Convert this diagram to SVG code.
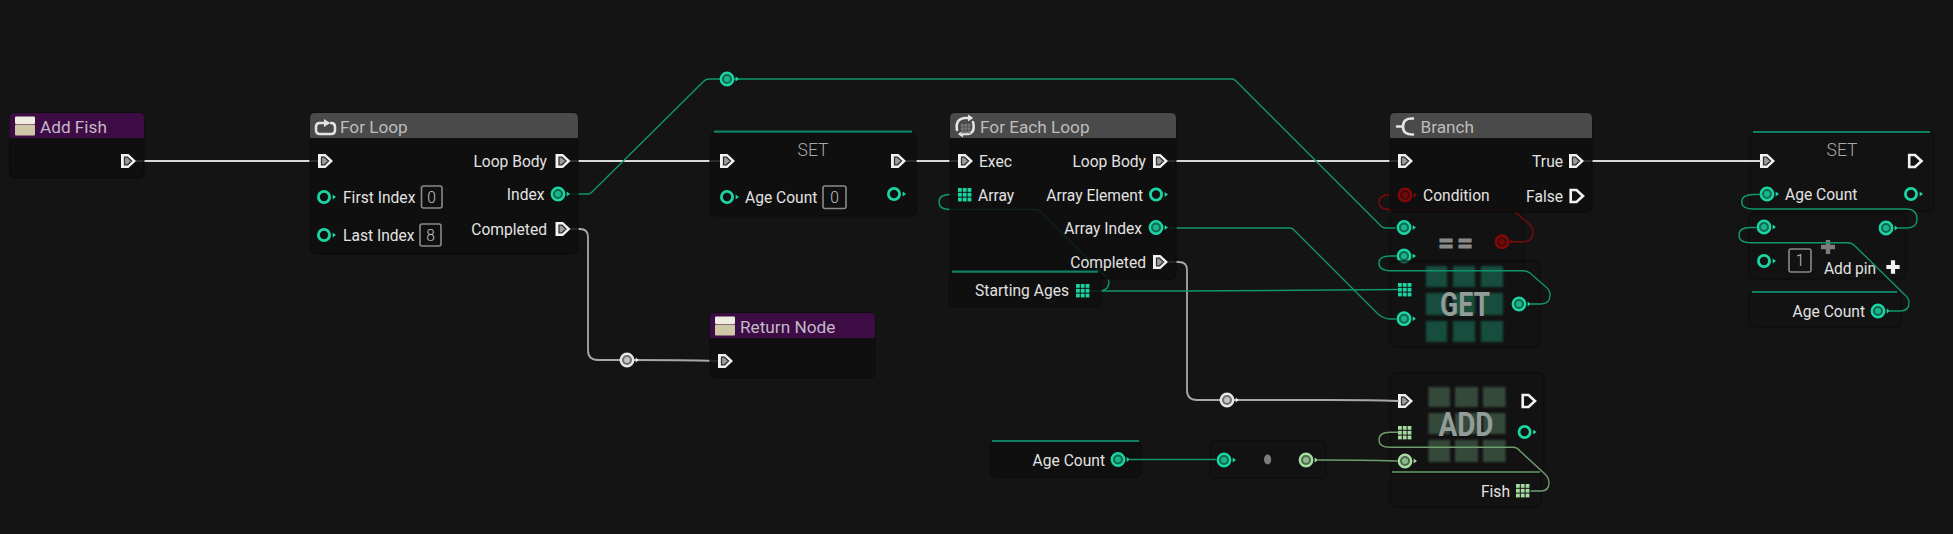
<svg xmlns="http://www.w3.org/2000/svg" width="1953" height="534" viewBox="0 0 1953 534">
<style>
text{font-family:Roboto,"Liberation Sans",sans-serif;font-size:15.6px;fill:#e2e2e2}
.r{text-anchor:end}
.t{font-size:17.2px;fill:#bdbdbd}
.tp{font-size:17.2px;fill:#c4b8c8}
.set{font-size:17.5px;fill:#a8a8a8;text-anchor:middle;font-weight:300}
.big{font-size:34px;font-weight:700;fill:#929c98;text-anchor:middle}
.eq{font-size:28px;font-weight:700;fill:#8a8a8a;stroke:#8a8a8a;stroke-width:.8;text-anchor:middle;letter-spacing:3px}
.val{fill:#c4c4c4;text-anchor:middle;font-weight:300}
.n{fill:#0e0e0e;fill-opacity:.85;stroke:#0b0b0b}
.f{fill:#111;fill-opacity:.55;stroke:#0b0b0b}
.h{fill:#4a4a4a}.p{fill:#3e0c44}
.w,.wt,.wr,.wg,.wx{fill:none;stroke-linecap:round}
.w{stroke:#d8d8d8;stroke-width:1.8}
.wx{stroke:#a8a8a8;stroke-width:1.8}
.wt{stroke:#10956f;stroke-width:1.4}
.wr{stroke:#7a0b0b;stroke-width:1.4}
.wg{stroke:#6f9c6d;stroke-width:1.4}
.box{fill:none;stroke:#8a8a8a;stroke-width:1.6}
.line{stroke:#0f8064;stroke-width:2.2}
.ic{fill:none;stroke:#e4e4e4;stroke-width:2.6;stroke-linecap:round;stroke-linejoin:round}
.teal{color:#1bd6a4}.red{color:#850808}.lg{color:#a6dca2}.wh{color:#e8e8e8}
</style>
<defs>
<filter id="soft" x="-20%" y="-20%" width="140%" height="140%"><feGaussianBlur stdDeviation="1.3"/></filter>
<g id="exec"><path d="M0,-7H7.5L15,0L7.5,7H0Z" fill="#f2f2f2"/><path d="M3.5,-3.8H6.5L10.6,0L6.5,3.8H3.5Z" fill="#9a9a9a" stroke="#2c2c2c" stroke-width="1.2"/></g>
<path id="hexec" d="M1.2,-6H7L13.5,0L7,6H1.2Z" fill="none" stroke="#f2f2f2" stroke-width="2.6"/>
<g id="hol"><circle r="5.6" fill="none" stroke="currentColor" stroke-width="2.8"/><path d="M8.6,-2.4L12,0L8.6,2.4Z" fill="currentColor"/></g>
<g id="dot"><circle r="6.2" fill="#0c0c0c"/><circle r="6.2" fill="currentColor" fill-opacity=".45" stroke="currentColor" stroke-width="2.4"/><circle r="3" fill="currentColor" fill-opacity=".7"/><path d="M8.6,-2.4L12,0L8.6,2.4Z" fill="currentColor"/></g>
<g id="grid"><rect width="3.8" height="3.8"/><rect x="4.8" width="3.8" height="3.8"/><rect x="9.6" width="3.8" height="3.8"/><rect y="4.8" width="3.8" height="3.8"/><rect x="4.8" y="4.8" width="3.8" height="3.8"/><rect x="9.6" y="4.8" width="3.8" height="3.8"/><rect y="9.6" width="3.8" height="3.8"/><rect x="4.8" y="9.6" width="3.8" height="3.8"/><rect x="9.6" y="9.6" width="3.8" height="3.8"/></g>
<g id="fn"><rect width="20" height="7.5" rx="1" fill="#efece0"/><rect y="8" width="20" height="11" rx="1" fill="#cfc8a6"/></g>
<g id="plus"><path d="M-7,0H7M0,-7V7" fill="none" stroke="currentColor" stroke-width="4.4"/></g>
</defs>
<rect width="1953" height="534" fill="#141414"/>

<g id="node-equal">
<rect class="f" x="1390" y="212" width="134" height="60" rx="5"/>
<text class="eq" x="1457" y="252">==</text>
<use href="#dot" class="teal" x="1404" y="227.5"/>
<use href="#dot" class="teal" x="1404" y="256"/>
<use href="#dot" class="red" x="1502" y="241.7"/>
</g>
<g id="node-get">
<rect class="f" x="1390" y="261" width="150" height="86" rx="5"/>
<g fill="#194d3e" filter="url(#soft)">
<rect x="1426" y="266" width="21" height="21"/><rect x="1453" y="266" width="22" height="21"/><rect x="1481" y="266" width="22" height="21"/>
<rect x="1426" y="293" width="21" height="22"/><rect x="1453" y="293" width="22" height="22"/><rect x="1481" y="293" width="22" height="22"/>
<rect x="1426" y="321" width="21" height="21"/><rect x="1453" y="321" width="22" height="21"/><rect x="1481" y="321" width="22" height="21"/>
</g>
<text class="big" x="1465" y="316" textLength="50" lengthAdjust="spacingAndGlyphs">GET</text>
<use href="#grid" fill="#1bd6a4" x="1398" y="283"/>
<use href="#dot" class="teal" x="1404" y="318.7"/>
<use href="#dot" class="teal" x="1519" y="304"/>
</g>
<g id="node-add">
<rect class="f" x="1390" y="373" width="154" height="100" rx="5"/>
<g fill="#364a3a" filter="url(#soft)">
<rect x="1428.500" y="387" width="21.500" height="20"/><rect x="1455" y="387" width="23" height="20"/><rect x="1483" y="387" width="22.500" height="20"/>
<rect x="1428.500" y="413" width="21.500" height="21"/><rect x="1455" y="413" width="23" height="21"/><rect x="1483" y="413" width="22.500" height="21"/>
<rect x="1428.500" y="440" width="21.500" height="22"/><rect x="1455" y="440" width="23" height="22"/><rect x="1483" y="440" width="22.500" height="22"/>
</g>
<text class="big" x="1466" y="436" textLength="55" lengthAdjust="spacingAndGlyphs">ADD</text>
<use href="#exec" x="1398" y="401"/>
<use href="#hexec" x="1521.500" y="401"/>
<use href="#grid" fill="#a6dca2" x="1398" y="426"/>
<use href="#hol" class="teal" x="1524.600" y="432"/>
<use href="#dot" class="lg" x="1405" y="461"/>
</g>
<g id="node-fish">
<rect class="f" x="1390" y="473" width="151" height="34" rx="5"/>
<path d="M1392,472H1540" stroke="#507a50" stroke-width="2"/>
<text class="r" x="1510" y="496.500">Fish</text>
<use href="#grid" fill="#a6dca2" x="1516" y="484"/>
</g>
<g id="node-set-right">
<rect class="f" x="1750" y="133" width="184" height="78" rx="5"/>
<path class="line" d="M1753,132H1930"/>
<text class="set" x="1842" y="156">SET</text>
<use href="#exec" x="1760" y="161"/>
<use href="#hexec" x="1908" y="161"/>
<use href="#dot" class="teal" x="1767" y="194"/>
<text x="1785" y="200">Age Count</text>
<use href="#hol" class="teal" x="1911" y="194"/>
</g>
<g id="node-add-pin">
<rect class="f" x="1749" y="213" width="157" height="66" rx="5"/>
<use href="#dot" class="teal" x="1764" y="227"/>
<use href="#dot" class="teal" x="1886" y="228"/>
<use href="#hol" class="teal" x="1764" y="261"/>
<rect class="box" x="1789" y="249" width="22" height="23" rx="2"/>
<text class="val" x="1800" y="266">1</text>
<use href="#plus" style="color:#7c7c7c" x="1828" y="247"/>
<text x="1824" y="273.500" textLength="52">Add pin</text>
<use href="#plus" style="color:#f2f2f2" transform="translate(1893,267) scale(.95)"/>
</g>
<g id="node-age-count-right">
<rect class="f" x="1749" y="293" width="152" height="34" rx="5"/>
<path class="line" d="M1752,292H1897"/>
<text class="r" x="1865" y="316.500">Age Count</text>
<use href="#dot" class="teal" x="1878" y="311"/>
</g>
<g id="node-age-count">
<rect class="n" x="990" y="442" width="151" height="35" rx="5"/>
<path class="line" d="M992,441H1139"/>
<text class="r" x="1105" y="465.500">Age Count</text>
<use href="#dot" class="teal" x="1118" y="459.500"/>
</g>
<g id="node-convert">
<rect class="f" x="1210" y="441" width="116" height="37" rx="5"/>
<use href="#dot" class="teal" x="1224" y="460"/>
<ellipse cx="1267.600" cy="459.500" rx="3.600" ry="5" fill="#7c7c7c"/>
<use href="#dot" class="lg" x="1306" y="460"/>
</g>

<g id="connectors">
<path class="w" d="M136,161H318"/>
<path class="w" d="M570,161H720"/>
<path class="w" d="M906,161H958"/>
<path class="w" d="M1168,161H1398"/>
<path class="w" d="M1584,161H1760"/>
<path class="wt" d="M570,194H588Q590,194 592,192L704,81Q706,79 709,79H721"/>
<path class="wt" d="M733,79H1232Q1234,79 1236,81L1381,226Q1383,228 1386,228H1395"/>
<path class="wx" d="M570,229H580Q588,229 588,237V350Q588,360 598,360H620"/>
<path class="wx" d="M633,360Q680,360 718,361"/>
<path class="wx" d="M1168,262H1179Q1187,262 1187,270V390Q1187,400 1197,400H1220"/>
<path class="wx" d="M1234,400H1330Q1370,400 1398,401"/>
<path class="wt" d="M1168,228H1290Q1292,228 1294,230L1378,314Q1384,319 1390,319H1396"/>
<path class="wt" d="M1090,291H1100Q1109,290 1109,282Q1109,280 1106,277L1041,212Q1039,209.500 1036,209.500H950Q939,209.500 939,202Q939,194.500 950,194.500H958"/>
<path class="wt" stroke-width="2" d="M1090,291Q1240,291 1398,289.500"/>
<path class="wr" d="M1513,241.700H1524Q1533,241.700 1533,232Q1533,227 1528,223L1515,212Q1512,209.500 1508,209.500H1390Q1379,209.500 1379,202Q1379,194.700 1390,194.700H1400"/>
<path class="wt" d="M1530,304H1541Q1550,304 1550,295Q1550,290 1546,287L1530,273Q1527,270.700 1523,270.700H1390Q1379,270.700 1379,263Q1379,256 1390,256H1396"/>
<path class="wt" d="M1898,228H1907Q1917,228 1917,219Q1917,209 1906,209H1754Q1741.700,209 1741.700,202Q1741.700,194.500 1754,194.500H1760"/>
<path class="wt" d="M1889,311H1900Q1909,311 1909,303Q1909,298 1905,295L1855,246Q1852,242.700 1848,242.700H1750Q1739,242.700 1739,235Q1739,227.500 1750,227.500H1756"/>
<path class="wt" d="M1130,459.500H1216"/>
<path class="wg" d="M1318,460Q1360,460 1397,461"/>
<path class="wg" d="M1531,491H1541Q1549,491 1549,483Q1549,478 1545,474L1520,451Q1517,447.300 1513,447.300H1390Q1379,447.300 1379,440Q1379,432.300 1390,432.300H1398"/>
</g>

<g id="node-add-fish">
<rect class="n" x="9.500" y="113" width="134.500" height="65" rx="5"/>
<path class="p" d="M9.500,138V118Q9.500,113 14.500,113H139Q144,113 144,118V138Z"/>
<use href="#fn" x="15" y="116.500"/>
<text class="tp" x="40" y="132.500">Add Fish</text>
<use href="#exec" x="121" y="161"/>
</g>
<g id="node-for-loop">
<rect class="n" x="310" y="113" width="268" height="141" rx="5"/>
<path class="h" d="M310,138V118Q310,113 315,113H573Q578,113 578,118V138Z"/>
<path class="ic" d="M328,123H320Q316,123 316,127V130Q316,134 320,134H331Q335,134 335,130V127Q335,123 331,123"/>
<path d="M324,119L330,123L324,127Z" fill="#e4e4e4"/>
<text class="t" x="340" y="132.500">For Loop</text>
<use href="#exec" x="318" y="161"/>
<use href="#hol" class="teal" x="324" y="197"/>
<text x="343" y="202.500">First Index</text>
<rect class="box" x="421.500" y="186" width="20.500" height="22" rx="2"/>
<text class="val" x="431.700" y="202.500">0</text>
<use href="#hol" class="teal" x="324" y="235"/>
<text x="343" y="240.500">Last Index</text>
<rect class="box" x="420" y="224" width="21" height="22" rx="2"/>
<text class="val" x="430.500" y="240.500">8</text>
<text class="r" x="547" y="166.500">Loop Body</text>
<use href="#exec" x="555.500" y="161"/>
<text class="r" x="544.500" y="200">Index</text>
<use href="#dot" class="teal" x="558" y="194"/>
<text class="r" x="547" y="234.500">Completed</text>
<use href="#exec" x="555.500" y="229"/>
</g>
<g id="node-reroute-index"><use href="#dot" class="teal" x="727" y="79"/></g>
<g id="node-reroute-return"><use href="#dot" class="wh" x="627" y="360"/></g>
<g id="node-reroute-add"><use href="#dot" class="wh" x="1227" y="400"/></g>
<g id="node-set-left">
<rect class="n" x="710" y="133" width="206" height="83" rx="5"/>
<path class="line" d="M714,131.700H912"/>
<text class="set" x="813" y="156">SET</text>
<use href="#exec" x="720" y="161"/>
<use href="#exec" x="891" y="161"/>
<use href="#hol" class="teal" x="727" y="197"/>
<text x="745" y="202.500">Age Count</text>
<rect class="box" x="823" y="186" width="23" height="22.500" rx="2"/>
<text class="val" x="834.500" y="202.500">0</text>
<use href="#hol" class="teal" x="894" y="194"/>
</g>
<g id="node-return">
<rect class="n" x="710" y="313" width="165" height="65" rx="5"/>
<path class="p" d="M710,338V318Q710,313 715,313H870Q875,313 875,318V338Z"/>
<use href="#fn" x="715" y="316.500"/>
<text class="tp" x="740" y="332.500">Return Node</text>
<use href="#exec" x="718" y="361"/>
</g>
<g id="node-for-each">
<rect class="n" x="950" y="113" width="226" height="166" rx="5"/>
<path class="h" d="M950,138V118Q950,113 955,113H1171Q1176,113 1176,118V138Z"/>
<path class="ic" d="M957,130Q955,119 965,118H971M973,122Q976,134 966,134H960"/>
<path d="M968,114.500L973,118L968,121.500ZM963,130.500L958,134L963,137.500Z" fill="#e4e4e4"/>
<use href="#grid" fill="#777" transform="translate(961,124) scale(.7)"/>
<text class="t" x="980" y="132.500">For Each Loop</text>
<use href="#exec" x="958" y="161"/>
<text x="979" y="166.500">Exec</text>
<text class="r" x="1146" y="166.500">Loop Body</text>
<use href="#exec" x="1153" y="161"/>
<use href="#grid" fill="#1bd6a4" x="958" y="188"/>
<text x="978" y="200.500">Array</text>
<text class="r" x="1143" y="200.500">Array Element</text>
<use href="#hol" class="teal" x="1156" y="194.500"/>
<text class="r" x="1142" y="233.500">Array Index</text>
<use href="#dot" class="teal" x="1156" y="227.500"/>
<text class="r" x="1146" y="267.500">Completed</text>
<use href="#exec" x="1153" y="262"/>
</g>
<g id="node-starting-ages">
<rect class="n" x="949" y="273" width="152" height="34" rx="5"/>
<path class="line" d="M952,271.700H1098"/>
<text class="r" x="1069" y="296">Starting Ages</text>
<use href="#grid" fill="#1bd6a4" x="1076" y="284"/>
</g>
<g id="node-branch">
<rect class="n" x="1390" y="113" width="202" height="99" rx="5"/>
<path class="h" d="M1390,138V118Q1390,113 1395,113H1587Q1592,113 1592,118V138Z"/>
<path class="ic" d="M1397,126.500H1402M1413,118.500Q1403,118 1403,126.500Q1403,135 1413,134.500"/>
<text class="t" x="1420.500" y="132.500">Branch</text>
<use href="#exec" x="1398" y="161"/>
<text class="r" x="1563" y="166.500">True</text>
<use href="#exec" x="1569" y="161"/>
<use href="#dot" class="red" x="1405" y="195"/>
<text x="1423" y="200.500">Condition</text>
<text class="r" x="1563" y="201.500">False</text>
<use href="#hexec" x="1569.500" y="196"/>
</g>
</svg>
